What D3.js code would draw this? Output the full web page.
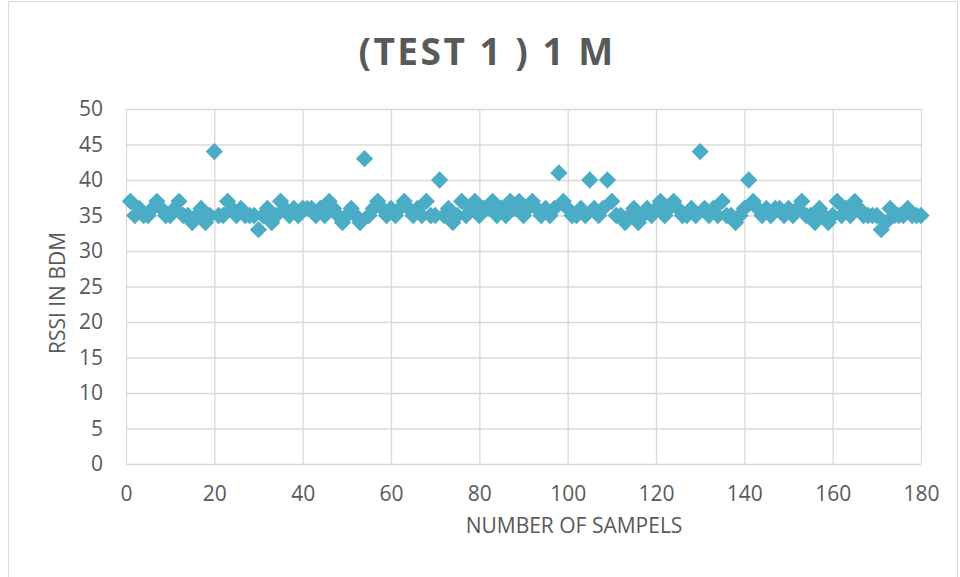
<!DOCTYPE html>
<html>
<head>
<meta charset="utf-8">
<script src="https://cdn.jsdelivr.net/npm/d3@7"></script>
<style>
  body { margin: 0; background: #fff; }
  text { font-family: 'Open Sans', sans-serif; fill: #595959; }
</style>
</head>
<body>
<div id="chart"></div>
<script>
// samples 1..180, RSSI
const rssi = [
  37, 35, 36, 35, 35, 36, 37, 36, 35, 35,
  36, 37, 35, 35, 34, 35, 36, 34, 35, 44,
  35, 35, 37, 36, 35, 36, 35, 35, 35, 33,
  35, 36, 34, 35, 37, 36, 35, 36, 35, 36,
  36, 36, 35, 36, 35, 37, 36, 35, 34, 35,
  36, 35, 34, 43, 35, 36, 37, 36, 35, 36,
  35, 36, 37, 36, 35, 36, 35, 37, 35, 35,
  40, 35, 36, 34, 35, 37, 35, 36, 37, 35,
  36, 36, 37, 35, 36, 35, 37, 36, 37, 35,
  36, 37, 36, 35, 36, 35, 36, 41, 37, 36,
  35, 35, 36, 35, 40, 36, 35, 36, 40, 37,
  35, 35, 34, 35, 36, 34, 35, 36, 35, 36,
  37, 35, 36, 37, 36, 35, 35, 36, 35, 44,
  36, 35, 36, 35, 37, 35, 35, 34, 35, 36,
  40, 37, 36, 35, 36, 35, 36, 36, 35, 36,
  35, 36, 37, 35, 35, 34, 36, 35, 34, 35,
  37, 35, 36, 35, 37, 36, 35, 35, 35, 35,
  33, 34, 36, 35, 35, 35, 36, 35, 35, 35
]
const samples = rssi.map((v, i) => ({ n: i + 1, v }))

const xTicks = [0, 20, 40, 60, 80, 100, 120, 140, 160, 180]
const yTicks = [0, 5, 10, 15, 20, 25, 30, 35, 40, 45, 50]

const width = 960
const height = 577
const plot = { left: 126, right: 921, top: 109, bottom: 464 }

const svg = d3.select('#chart').append('svg')
  .attr('width', width)
  .attr('height', height)

// chart frame
svg.append('rect')
  .attr('x', 8.5).attr('y', 1.5)
  .attr('width', 949).attr('height', 580)
  .attr('fill', '#fff')
  .attr('stroke', '#d9d9d9')

const x = d3.scaleLinear().domain([0, 180]).range([plot.left, plot.right])
const y = d3.scaleLinear().domain([0, 50]).range([plot.bottom, plot.top])

// gridlines
svg.append('g')
  .attr('transform', `translate(0,${plot.bottom})`)
  .call(d3.axisBottom(x).tickValues(xTicks).tickSize(-(plot.bottom - plot.top)).tickFormat(''))
  .call(g => g.select('.domain').remove())
  .call(g => g.selectAll('line').attr('stroke', '#d9d9d9').attr('stroke-width', 1.3))

svg.append('g')
  .attr('transform', `translate(${plot.left},0)`)
  .call(d3.axisLeft(y).tickValues(yTicks).tickSize(-(plot.right - plot.left)).tickFormat(''))
  .call(g => g.select('.domain').remove())
  .call(g => g.selectAll('line').attr('stroke', '#d9d9d9').attr('stroke-width', 1.3))

// tick labels
svg.append('g')
  .attr('transform', `translate(0,${plot.bottom + 22})`)
  .call(d3.axisBottom(x).tickValues(xTicks).tickSize(0).tickPadding(0))
  .call(g => g.select('.domain').remove())
  .call(g => g.selectAll('text')
    .attr('font-size', 21).attr('fill', '#595959')
    .attr('font-family', 'Open Sans, sans-serif'))

svg.append('g')
  .attr('transform', `translate(${plot.left - 23},0)`)
  .call(d3.axisLeft(y).tickValues(yTicks).tickSize(0).tickPadding(0))
  .call(g => g.select('.domain').remove())
  .call(g => g.selectAll('text')
    .attr('font-size', 21).attr('fill', '#595959')
    .attr('font-family', 'Open Sans, sans-serif'))

// markers
const diamond = d3.symbol().type(d3.symbolDiamond2).size(190)
svg.append('g')
  .selectAll('path')
  .data(samples)
  .join('path')
  .attr('transform', d => `translate(${x(d.n)},${y(d.v)})`)
  .attr('d', diamond)
  .attr('fill', '#4bacc6')

// titles
svg.append('text')
  .attr('x', 487).attr('y', 65)
  .attr('text-anchor', 'middle')
  .attr('font-size', 37)
  .attr('font-weight', 'bold')
  .attr('letter-spacing', 2.5)
  .text('(TEST 1 ) 1 M')

svg.append('text')
  .attr('x', 574).attr('y', 533)
  .attr('text-anchor', 'middle')
  .attr('font-size', 21)
  .text('NUMBER OF SAMPELS')

svg.append('text')
  .attr('transform', 'translate(65,293) rotate(-90)')
  .attr('text-anchor', 'middle')
  .attr('font-size', 21)
  .text('RSSI IN BDM')
</script>
</body>
</html>
